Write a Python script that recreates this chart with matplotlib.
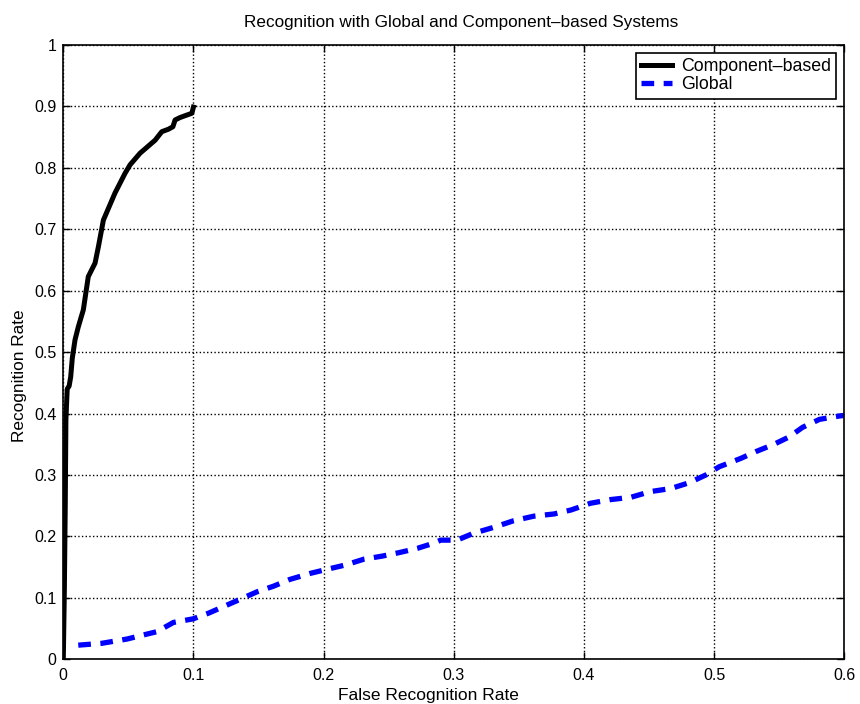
import matplotlib.pyplot as plt

plt.rcParams['font.family'] = ['Liberation Sans', 'DejaVu Sans']

# component-based system
comp_far = [0.0, 0.0008, 0.0015, 0.002, 0.003, 0.0045, 0.0057, 0.0069, 0.009,
            0.0115, 0.0154, 0.0192, 0.0244, 0.027, 0.0308, 0.0397, 0.0474,
            0.0513, 0.059, 0.0705, 0.0757, 0.0808, 0.0842, 0.0859, 0.0897,
            0.0988, 0.1]
comp_rate = [0.0, 0.11, 0.25, 0.39, 0.44, 0.445, 0.46, 0.49, 0.52,
             0.541, 0.569, 0.623, 0.645, 0.672, 0.715, 0.759, 0.791,
             0.805, 0.824, 0.845, 0.859, 0.863, 0.867, 0.878, 0.882,
             0.889, 0.899]

# global system
glob_far = [0.0115, 0.0295, 0.049, 0.0615, 0.072, 0.0846, 0.095, 0.1, 0.1115,
            0.123, 0.1346, 0.149, 0.1615, 0.174, 0.19, 0.2026, 0.2167, 0.231,
            0.245, 0.2577, 0.272, 0.2846, 0.29, 0.3026, 0.315, 0.331, 0.346,
            0.3615, 0.377, 0.39, 0.405, 0.4205, 0.436, 0.451, 0.4667, 0.481,
            0.4936, 0.504, 0.5205, 0.532, 0.546, 0.5577, 0.568, 0.581, 0.596,
            0.6]
glob_rate = [0.023, 0.026, 0.033, 0.0396, 0.045, 0.06, 0.064, 0.066, 0.075,
             0.0857, 0.0965, 0.11, 0.119, 0.13, 0.14, 0.1465, 0.1535, 0.163,
             0.168, 0.1735, 0.1806, 0.189, 0.194, 0.194, 0.205, 0.215, 0.2256,
             0.233, 0.2366, 0.243, 0.254, 0.26, 0.2637, 0.273, 0.278, 0.2875,
             0.3, 0.3135, 0.327, 0.338, 0.35, 0.362, 0.3776, 0.3906, 0.396,
             0.397]

xticks = [0, 0.1, 0.2, 0.3, 0.4, 0.5, 0.6]
xticklabels = ['0', '0.1', '0.2', '0.3', '0.4', '0.5', '0.6']
yticks = [0, 0.1, 0.2, 0.3, 0.4, 0.5, 0.6, 0.7, 0.8, 0.9, 1]
yticklabels = ['0', '0.1', '0.2', '0.3', '0.4', '0.5', '0.6', '0.7', '0.8', '0.9', '1']

fig = plt.figure(figsize=(8.6, 7.04), dpi=100)
ax = fig.add_axes([0.0736, 0.0635, 0.908, 0.8725])

ax.plot(comp_far, comp_rate, color='black', linewidth=3.6, label='Component\u2013based')
ax.plot(glob_far, glob_rate, color='#0000ff', linewidth=3.8, dashes=(2.4, 1.8),
        label='Global')

ax.set_xlim(0, 0.6)
ax.set_ylim(0, 1)
ax.set_xticks(xticks)
ax.set_xticklabels(xticklabels)
ax.set_yticks(yticks)
ax.set_yticklabels(yticklabels)
ax.tick_params(direction='in', top=True, right=True, length=5, width=1,
               labelsize=11.5, colors='black')
ax.tick_params(axis='x', pad=6)
ax.tick_params(axis='y', pad=5)
ax.grid(True, color='black', linestyle=':', linewidth=1)
for s in ax.spines.values():
    s.set_linewidth(1.2)

ax.set_title('Recognition with Global and Component\u2013based Systems',
             fontsize=12.3, pad=13, x=0.509)
ax.set_xlabel('False Recognition Rate', fontsize=12.5)
ax.set_ylabel('Recognition Rate', fontsize=12.4)
ax.xaxis.set_label_coords(0.468, -0.047)
ax.yaxis.set_label_coords(-0.047, 0.461)

leg = ax.legend(loc='upper right', fontsize=12.8, fancybox=False, framealpha=1,
                edgecolor='black', handlelength=1.75, borderaxespad=0.45,
                borderpad=0.3, labelspacing=0.05, handletextpad=0.5)
leg.get_frame().set_linewidth(1.2)

fig.savefig('out.png', dpi=100)
